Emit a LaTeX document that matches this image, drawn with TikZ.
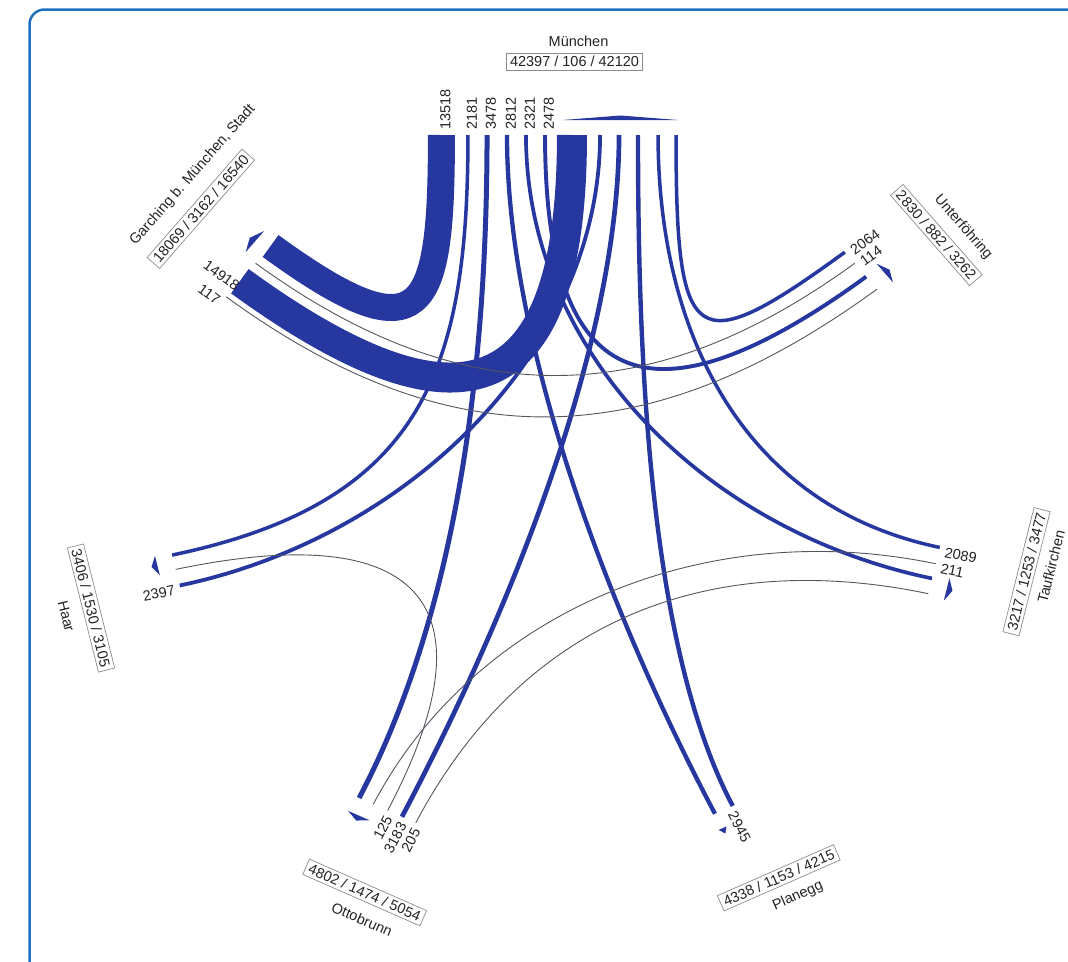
\documentclass[tikz,border=0pt]{standalone}
\usepackage{fontspec}
\setmainfont{Liberation Sans}
\usetikzlibrary{calc}
\definecolor{flowblue}{RGB}{38,56,160}
\definecolor{thinc}{RGB}{85,85,95}
\definecolor{framec}{RGB}{30,112,190}
\definecolor{txtc}{RGB}{35,35,35}
\definecolor{boxc}{RGB}{140,140,140}
\newcommand\zfont{\fontsize{14.5}{16}\selectfont}
\newcommand\zR{355}
\def\aM{90}
\def\aU{38.5714}
\def\aT{-12.8571}
\def\aP{-64.2857}
\def\aO{-115.7143}
\def\aH{-167.1429}
\def\aG{141.4286}
% flow: style, name1, theta1, s1, name2, theta2, s2, max control distance
\newcommand\flowpath[8]{%
  \pgfmathsetmacro\zca{cos(#3)}%
  \pgfmathsetmacro\zsa{sin(#3)}%
  \pgfmathsetmacro\zcb{cos(#6)}%
  \pgfmathsetmacro\zsb{sin(#6)}%
  \pgfmathsetmacro\zpax{\zR*\zca-(#4)*\zsa}%
  \pgfmathsetmacro\zpay{\zR*\zsa+(#4)*\zca}%
  \pgfmathsetmacro\zpbx{\zR*\zcb-(#7)*\zsb}%
  \pgfmathsetmacro\zpby{\zR*\zsb+(#7)*\zcb}%
  \pgfmathsetmacro\zdx{\zpbx-\zpax}%
  \pgfmathsetmacro\zdy{\zpby-\zpay}%
  \pgfmathsetmacro\zdt{sin((#3)-(#6))}%
  \pgfmathsetmacro\zta{min(0.9*(\zdx*\zsb-\zcb*\zdy)/\zdt,#8)}%
  \pgfmathsetmacro\ztb{min(0.9*(\zsa*\zdx-\zca*\zdy)/\zdt,#8)}%
  \coordinate (#2) at (\zpax,\zpay);%
  \coordinate (#5) at (\zpbx,\zpby);%
  \coordinate (#2c) at ({\zpax-\zta*\zca},{\zpay-\zta*\zsa});%
  \coordinate (#5c) at ({\zpbx-\ztb*\zcb},{\zpby-\ztb*\zsb});%
  \draw[#1] (#2) .. controls (#2c) and (#5c) .. (#5);%
}
% label: name, theta, s, r, text, anchor, extra rotation
\newcommand\flowlabel[7]{%
  \pgfmathsetmacro\zrot{atan2(sin(#2),1.096*cos(#2))+(#7)}%
  \pgfmathsetmacro\zlx{555+1.096*((#4)*cos(#2)-(#3)*sin(#2))}%
  \pgfmathsetmacro\zly{-490+(#4)*sin(#2)+(#3)*cos(#2)}%
  \node[flab, rotate=\zrot, anchor=#6] (#1) at (\zlx,\zly) {#5};%
}
% arrow marker: theta, s_a, s_b, r base, r apex
\newcommand\intri[5]{%
  \fill[flowblue] ({(#4)*cos(#1)-(#2)*sin(#1)},{(#4)*sin(#1)+(#2)*cos(#1)})
   -- ({(#5)*cos(#1)-(((#2)+(#3))/2)*sin(#1)},{(#5)*sin(#1)+(((#2)+(#3))/2)*cos(#1)})
   -- ({(#4)*cos(#1)-(#3)*sin(#1)},{(#4)*sin(#1)+(#3)*cos(#1)}) -- cycle;%
}
\tikzset{
  bandflow/.style={draw=flowblue},
  medflow/.style={draw=flowblue},
  thinflow/.style={draw=thinc, line width=0.9pt},
  flab/.style={font=\zfont, text=txtc, inner sep=0.5pt},
  nname/.style={font=\zfont, text=txtc, inner sep=0pt},
  nbox/.style={draw=boxc, line width=0.7pt, font=\zfont, text=txtc, inner xsep=3.5pt, inner ysep=3pt}
}
\begin{document}
\begin{tikzpicture}[x=1pt,y=1pt]
\useasboundingbox (0,0) rectangle (1068,-961);
\draw[framec, line width=2.5pt, rounded corners=15pt] (29.5,-9.5) rectangle (1110,-1010);
\begin{scope}[shift={(555,-490)}, xscale=1.096]
  % wide bands
  \flowpath{bandflow, line width=27pt}{MoG}{\aM}{103.6}{GiM}{\aG}{-29}{180}
  \flowpath{bandflow, line width=30pt}{GoM}{\aG}{16}{MiG}{\aM}{-15.5}{265}
  % Muenchen outgoing
  \flowpath{medflow, line width=3.5pt}{MoH}{\aM}{79.4}{HiM}{\aH}{-14.3}{235}
  \flowpath{medflow, line width=5pt}{MoO}{\aM}{62}{OiM}{\aO}{-27.4}{215}
  \flowpath{medflow, line width=4.3pt}{MoP}{\aM}{43.8}{PiM}{\aP}{-9}{215}
  \flowpath{medflow, line width=3.7pt}{MoT}{\aM}{26.5}{TiM}{\aT}{-9.7}{215}
  \flowpath{medflow, line width=3.9pt}{MoU}{\aM}{9.1}{UiM}{\aU}{-10.2}{255}
  % Muenchen incoming
  \flowpath{medflow, line width=3.8pt}{HoM}{\aH}{16.9}{MiH}{\aM}{-41.1}{215}
  \flowpath{medflow, line width=4.7pt}{OoM}{\aO}{16}{MiO}{\aM}{-58.4}{215}
  \flowpath{medflow, line width=4.4pt}{PoM}{\aP}{9}{MiP}{\aM}{-75.7}{215}
  \flowpath{medflow, line width=3.5pt}{ToM}{\aT}{22.1}{MiT}{\aM}{-94}{190}
  \flowpath{medflow, line width=3.5pt}{UoM}{\aU}{21.1}{MiU}{\aM}{-110.4}{215}
  % thin flows
  \flowpath{thinflow}{GoU}{\aG}{36}{UiG}{\aU}{-26.1}{265}
  \flowpath{thinflow}{UoG}{\aU}{6.8}{GiU}{\aG}{-7}{240}
  \flowpath{thinflow}{ToO}{\aT}{5.4}{OiT}{\aO}{-13}{215}
  \flowpath{thinflow}{OoT}{\aO}{30}{TiO}{\aT}{-25.3}{215}
  \flowpath{thinflow}{OoH}{\aO}{1.5}{HiO}{\aH}{0.4}{230}
  % arrow markers
  \intri{\aM}{-7.3}{-112.2}{370}{374.5}
  \intri{\aU}{-6}{-30}{370.5}{376}
  \intri{\aT}{-6}{-29}{370.5}{376}
  \intri{\aP}{-5}{-13}{371}{377}
  \intri{\aO}{-9}{-31}{371}{376.5}
  \intri{\aH}{-17}{3}{370.5}{376}
  \intri{\aG}{-10}{-37}{369}{375}
\end{scope}
% flow labels
\flowlabel{lMG}{\aM}{100.1}{360}{13518}{west}{0}
\flowlabel{lMH}{\aM}{75.9}{360}{2181}{west}{0}
\flowlabel{lMO}{\aM}{58.5}{360}{3478}{west}{0}
\flowlabel{lMP}{\aM}{40.3}{360}{2812}{west}{0}
\flowlabel{lMT}{\aM}{23}{360}{2321}{west}{0}
\flowlabel{lMU}{\aM}{5.6}{360}{2478}{west}{0}
\flowlabel{lUM}{\aU}{17.6}{360}{2064}{west}{0}
\flowlabel{lUG}{\aU}{3.3}{360}{114}{west}{0}
\flowlabel{lTM}{\aT}{18.6}{360}{2089}{west}{0}
\flowlabel{lTO}{\aT}{1.9}{360}{211}{west}{0}
\flowlabel{lPM}{\aP}{5.5}{360}{2945}{west}{0}
\flowlabel{lOH}{\aO}{5}{360}{125}{east}{180}
\flowlabel{lOM}{\aO}{19.5}{360}{3183}{east}{180}
\flowlabel{lOT}{\aO}{33.5}{360}{205}{east}{180}
\flowlabel{lHM}{\aH}{20.4}{360}{2397}{east}{180}
\flowlabel{lGM}{\aG}{22}{352}{14918}{east}{180}
\flowlabel{lGU}{\aG}{44}{357}{117}{east}{180}
% place names and totals
\node[nname] (nM) at (578.5,-41) {München};
\node[nbox] (bM) at (574.5,-61.7) {42397 / 106 / 42120};
\node[nname, rotate=48.8] (nG) at (192.7,-175) {Garching b. München, Stadt};
\node[nbox, rotate=48.8] (bG) at (200.8,-208.8) {18069 / 3162 / 16540};
\node[nname, rotate=-48.8] (nU) at (963.1,-227.5) {Unterföhring};
\node[nbox, rotate=-48.8] (bU) at (936.3,-235) {2830 / 882 / 3262};
\node[nname, rotate=75.9] (nT) at (1051,-566.7) {Taufkirchen};
\node[nbox, rotate=75.9] (bT) at (1026.5,-571.7) {3217 / 1253 / 3477};
\node[nname, rotate=23.7] (nP) at (797.9,-896) {Planegg};
\node[nbox, rotate=23.7] (bP) at (778.8,-877.8) {4338 / 1153 / 4215};
\node[nname, rotate=-23.7] (nO) at (362.1,-919.4) {Ottobrunn};
\node[nbox, rotate=-23.7] (bO) at (364.7,-892.5) {4802 / 1474 / 5054};
\node[nname, rotate=-75.9] (nH) at (66.3,-616.2) {Haar};
\node[nbox, rotate=-75.9] (bH) at (91,-608) {3406 / 1530 / 3105};
\end{tikzpicture}
\end{document}
